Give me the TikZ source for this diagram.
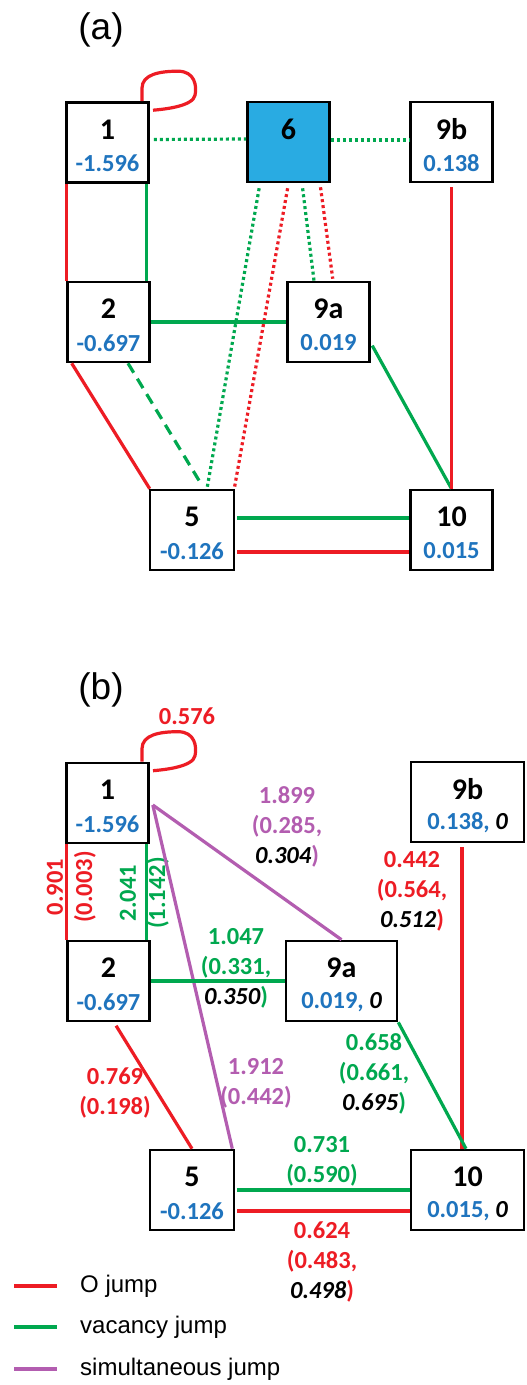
\documentclass[tikz,border=0pt]{standalone}
\usepackage{fontspec}
\setmainfont{Carlito}
\newfontfamily\arialfont{Liberation Sans}
\definecolor{jred}{HTML}{ED1C24}
\definecolor{jgreen}{HTML}{00A84F}
\definecolor{jpurple}{HTML}{B35DB0}
\definecolor{vblue}{HTML}{1F74BE}
\definecolor{cyanfill}{HTML}{29ABE2}
\tikzset{
  box/.style={draw=black, line width=2.6pt, minimum height=80pt, inner sep=0pt},
  num/.style={font=\fontsize{30}{32}\selectfont\bfseries, inner sep=0pt},
  val/.style={font=\fontsize{24.5}{26}\selectfont\bfseries, text=vblue, inner sep=0pt},
  ojump/.style={draw=jred, line width=3.2pt},
  vjump/.style={draw=jgreen, line width=3.2pt},
  sjump/.style={draw=jpurple, line width=3.2pt},
  dots/.style={dash pattern=on 3pt off 3pt},
  elab/.style={font=\fontsize{24.5}{30}\selectfont\bfseries, align=center, inner sep=0pt},
  panel/.style={font=\arialfont\fontsize{37}{40}\selectfont, inner sep=0pt},
  legtext/.style={font=\arialfont\fontsize{24}{28}\selectfont, anchor=west, inner sep=0pt},
}
% site box: name, x, y, width, label, value, fill
\newcommand\site[7]{%
  \node[box, minimum width=#4, fill=#7] (#1) at (#2,#3) {};
  \node[num] (#1-n) at ([yshift=13pt]#1.center) {#5};
  \node[val] (#1-v) at ([yshift=-21pt]#1.center) {#6};}
% O self jump drawn as a loop over the top right corner of a box
\newcommand\selfloop[1]{%
  \draw[ojump] ([xshift=34.5pt]#1.north) -- ([shift={(34.5pt,13pt)}]#1.north)
    .. controls ([shift={(34.5pt,27pt)}]#1.north) and ([shift={(52.5pt,30pt)}]#1.north)
    .. ([shift={(70.5pt,30pt)}]#1.north)
    .. controls ([shift={(87.5pt,30pt)}]#1.north) and ([shift={(89.5pt,15pt)}]#1.north)
    .. ([shift={(87.5pt,6pt)}]#1.north)
    .. controls ([shift={(85.5pt,-5pt)}]#1.north) and ([shift={(57.5pt,-8pt)}]#1.north)
    .. ([shift={(45.5pt,-9pt)}]#1.north);}
\begin{document}
\begin{tikzpicture}[x=1pt, y=-1pt]
\useasboundingbox (0,0) rectangle (527,1385);
\fill[white] (0,0) rectangle (527,1385);

% ---------------- panel (a) ----------------
\node[panel] (pa) at (101,30) {(a)};
\site{a1}{107.5}{142.5}{82pt}{1}{-1.596}{white}
\site{a6}{288.5}{142}{82pt}{6}{}{cyanfill}
\site{a9b}{451.5}{142}{82pt}{9b}{0.138}{white}
\site{a2}{108.5}{322}{82pt}{2}{-0.697}{white}
\site{a9a}{328.5}{322}{82pt}{9a}{0.019}{white}
\site{a5}{192}{530}{84pt}{5}{-0.126}{white}
\site{a10}{451.5}{530}{82pt}{10}{0.015}{white}

\selfloop{a1}
\draw[vjump, dots, shorten <=4pt] ([yshift=3pt]a1.east) -- ([yshift=3pt]a6.west);
\draw[vjump, dots] ([yshift=2pt]a6.east) -- ([yshift=2pt]a9b.west);
\draw[ojump] ([xshift=1pt]a1.south west) -- ([xshift=1pt]a1.south west |- a2.north);
\draw[vjump] ([xshift=-3pt]a1.south east) -- ([xshift=-3pt]a1.south east |- a2.north);
\draw[vjump, dots, shorten <=5pt, shorten >=2pt] ([xshift=-28.5pt]a6.south) -- ([xshift=15pt]a5.north);
\draw[ojump, dots, shorten <=5pt] (a6.south) -- ([xshift=-1pt]a5.north east);
\draw[vjump, dots, shorten <=5pt] ([xshift=13.5pt]a6.south) -- ([xshift=-14.5pt]a9a.north);
\draw[ojump, dots, shorten <=4pt, shorten >=2pt] ([xshift=31.5pt]a6.south) -- ([xshift=4.5pt]a9a.north);
\draw[vjump] (a2.east) -- (a9a.west);
\draw[ojump] ([xshift=5.5pt]a2.south west) -- ([xshift=1pt]a5.north west);
\draw[vjump, dash pattern=on 11pt off 7pt, shorten >=6pt] ([xshift=19.5pt]a2.south) -- ([xshift=12pt]a5.north);
\draw[vjump, shorten <=3pt] ([yshift=-21pt]a9a.east) -- (a10.north);
\draw[ojump, shorten <=4pt] (a9b.south) -- (a10.north);
\draw[vjump, shorten <=2pt] ([yshift=12pt]a5.east) -- ([yshift=12pt]a10.west);
\draw[ojump, shorten <=2pt] ([yshift=-22pt]a5.east) -- ([yshift=-22pt]a10.west);

% ---------------- panel (b) ----------------
\node[panel] (pb) at (101,690) {(b)};
\site{b1}{107.5}{803}{82pt}{1}{-1.596}{white}
\site{b9b}{467.5}{802}{113pt}{9b}{0.138, {\color{black}\itshape 0}}{white}
\site{b2}{108.5}{981}{82pt}{2}{-0.697}{white}
\site{b9a}{341.5}{981}{111pt}{9a}{0.019, {\color{black}\itshape 0}}{white}
\site{b5}{192}{1190}{84pt}{5}{-0.126}{white}
\site{b10}{467.5}{1190}{113pt}{10}{0.015, {\color{black}\itshape 0}}{white}

\selfloop{b1}
\node[elab, text=jred] (l576) at (187,716) {0.576};

\draw[ojump] ([xshift=1pt]b1.south west) -- ([xshift=1pt]b1.south west |- b2.north);
\draw[vjump] ([xshift=-3pt]b1.south east) -- ([xshift=-3pt]b1.south east |- b2.north);
\node[elab, text=jred, rotate=90] (l901) at (55,887) {0.901};
\node[elab, text=jred, rotate=90] (l003) at (85,887) {(0.003)};
\node[elab, text=jgreen, rotate=90] (l2041) at (128,893) {2.041};
\node[elab, text=jgreen, rotate=90] (l1142) at (158,893) {(1.142)};

\draw[sjump] ([shift={(3pt,-2pt)}]b1.east) -- (b9a.north);
\draw[sjump] ([shift={(3pt,-2pt)}]b1.east) -- ([xshift=-3pt]b5.north east);
\node[elab, text=jpurple] (l1899) at (287,827) {1.899\\(0.285,\\{\color{black}\itshape 0.304})};
\node[elab, text=jpurple] (l1912) at (256,1083) {1.912\\(0.442)};

\draw[ojump, shorten <=4pt] ([xshift=-5.5pt]b9b.south) -- ([xshift=-5.5pt]b10.north);
\node[elab, text=jred] (l442) at (412,891) {0.442\\(0.564,\\{\color{black}\itshape 0.512})};

\draw[vjump] (b2.east) -- (b9a.west);
\node[elab, text=jgreen] (l1047) at (236,968) {1.047\\(0.331,\\{\color{black}\itshape 0.350})};

\draw[ojump, shorten <=4pt] ([xshift=5.5pt]b2.south) -- (b5.north);
\node[elab, text=jred] (l769) at (115,1093) {0.769\\(0.198)};

\draw[vjump] (b9a.south east) -- ([xshift=-1.5pt]b10.north);
\node[elab, text=jgreen] (l658) at (374,1074) {0.658\\(0.661,\\{\color{black}\itshape 0.695})};

\draw[vjump, shorten <=2pt] (b5.east) -- (b10.west);
\draw[ojump, shorten <=2pt] ([yshift=-21pt]b5.east) -- ([yshift=-21pt]b10.west);
\node[elab, text=jgreen] (l731) at (322,1161) {0.731\\(0.590)};
\node[elab, text=jred] (l624) at (322,1262) {0.624\\(0.483,\\{\color{black}\itshape 0.498})};

% ---------------- legend ----------------
\coordinate (k1a) at (14,1286); \coordinate (k1b) at (57,1286);
\coordinate (k2a) at (14,1327); \coordinate (k2b) at (57,1327);
\coordinate (k3a) at (14,1369); \coordinate (k3b) at (57,1369);
\draw[ojump] (k1a) -- (k1b);
\draw[vjump] (k2a) -- (k2b);
\draw[sjump] (k3a) -- (k3b);
\node[legtext] (t1) at (80,1286) {O jump};
\node[legtext] (t2) at (80,1327) {vacancy jump};
\node[legtext] (t3) at (80,1369) {simultaneous jump};
\end{tikzpicture}
\end{document}
